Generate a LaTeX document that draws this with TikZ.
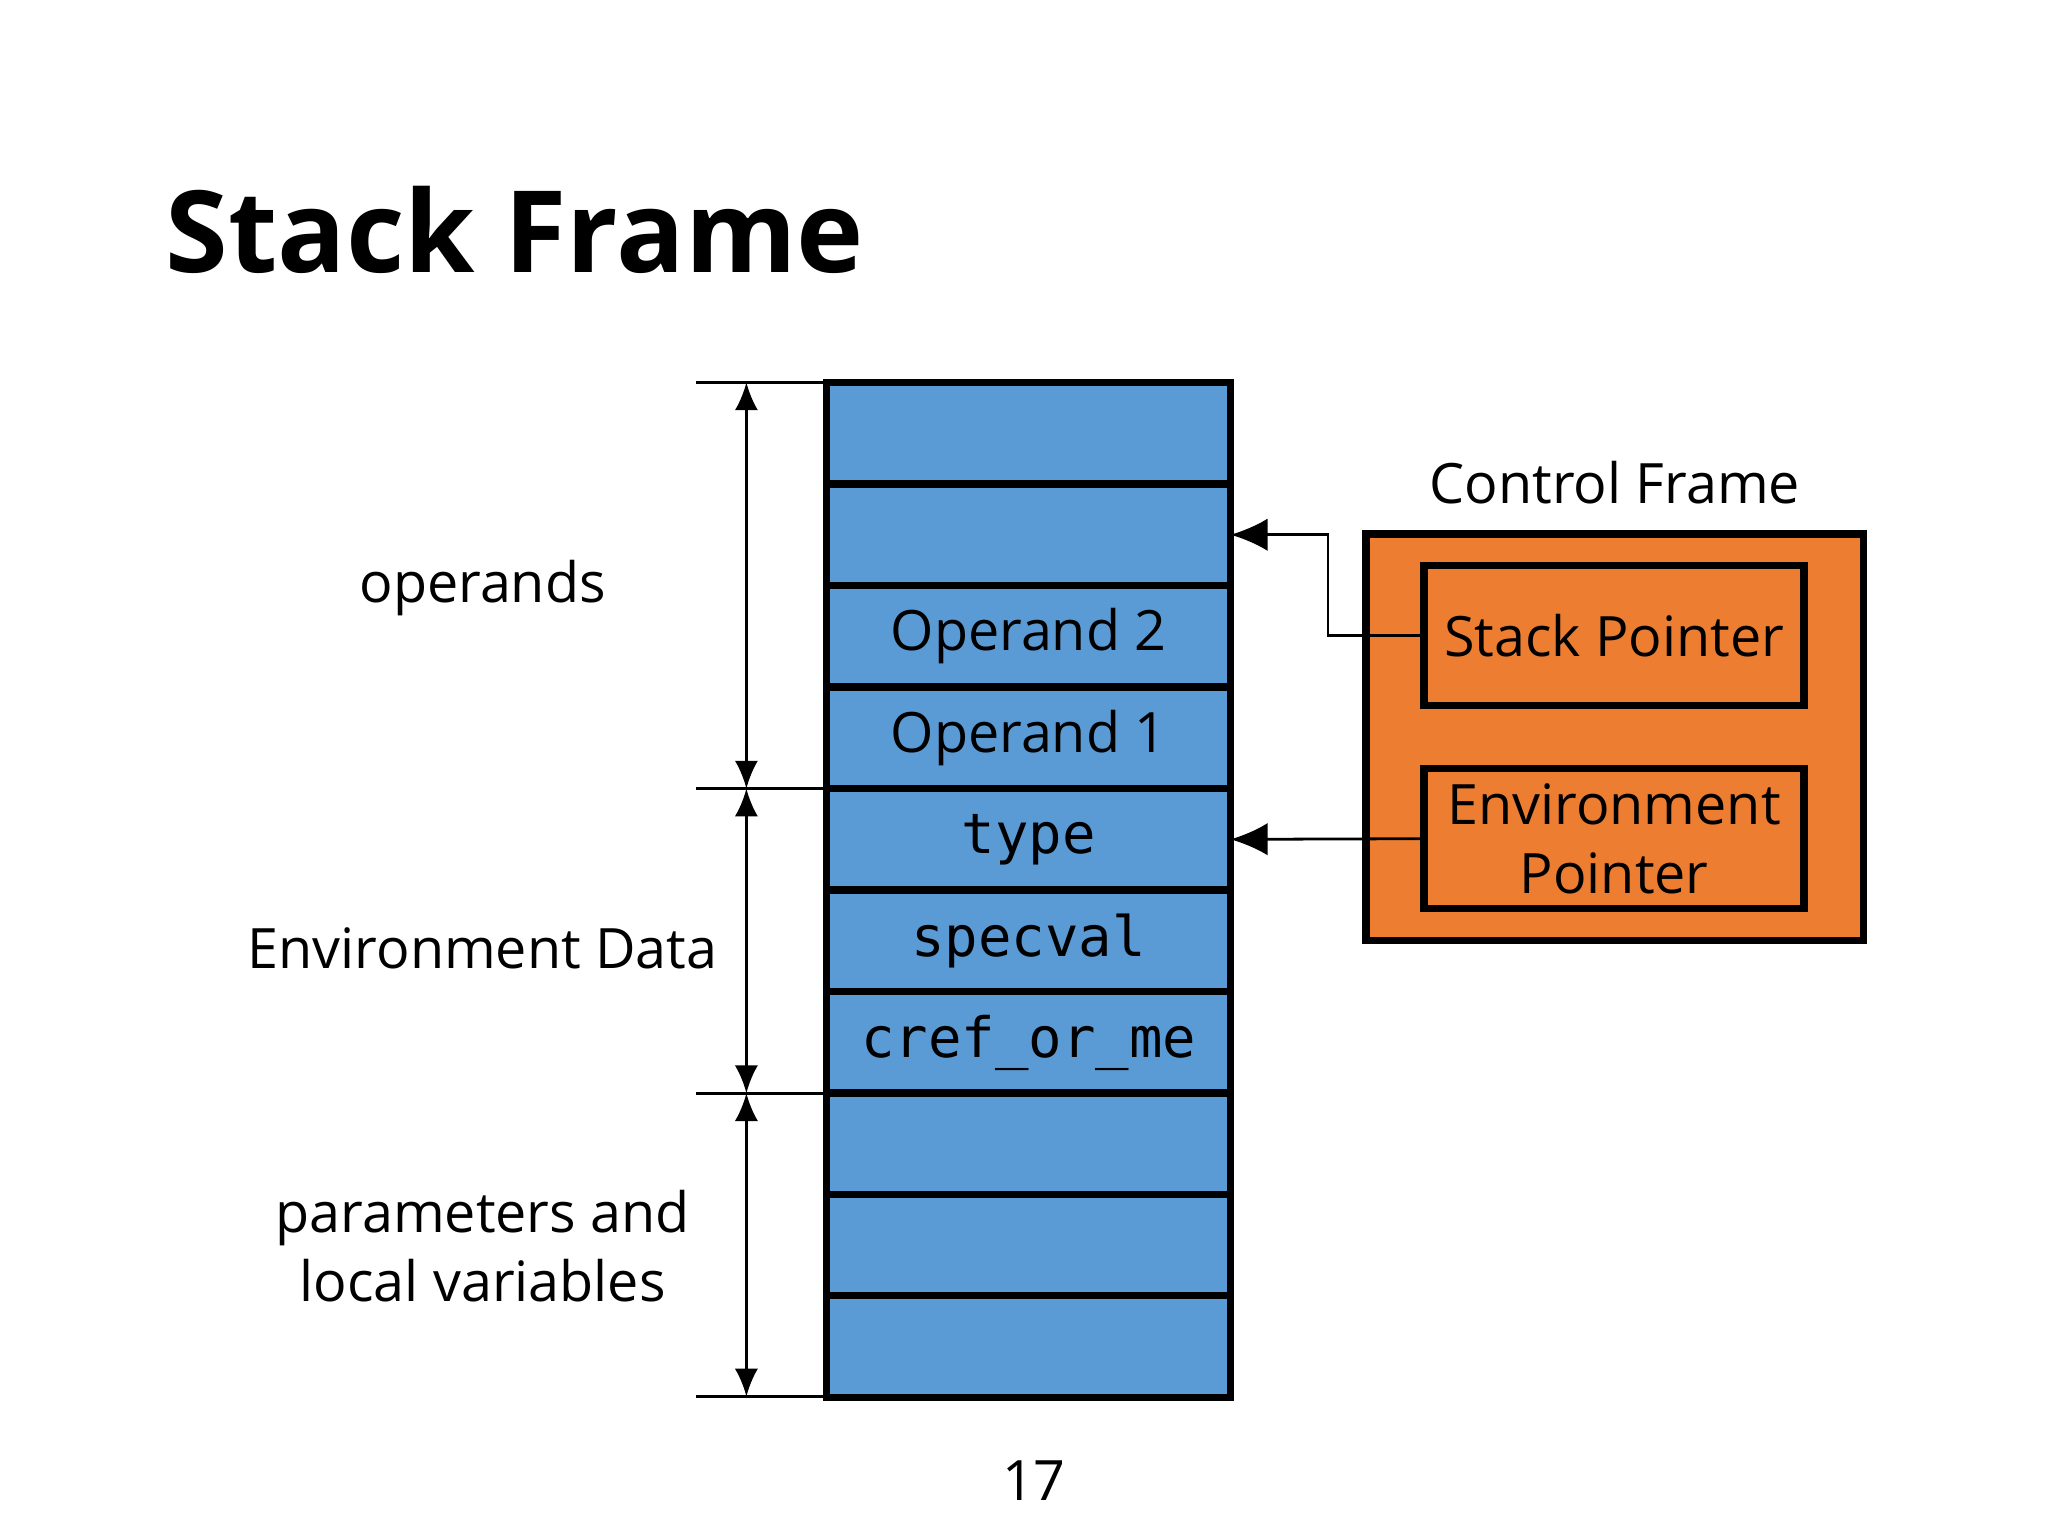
\documentclass[tikz,border=0pt]{standalone}
\usepackage{fontspec}
\setmainfont{Open Sans}
\newfontfamily\codefont{DejaVu Sans Mono}
\usetikzlibrary{arrows.meta}
\definecolor{slotblue}{HTML}{5B9BD5}
\definecolor{frameorange}{HTML}{ED7D31}
\tikzset{
  slot/.style={rectangle,draw=black,line width=1.6pt,fill=slotblue,minimum width=3.06cm,minimum height=0.77cm,inner sep=0pt,outer sep=0pt,font=\fontsize{12}{14}\selectfont},
  code/.style={slot,font=\codefont\fontsize{12}{14}\selectfont},
  ptr/.style={rectangle,draw=black,line width=1.6pt,fill=frameorange,minimum width=2.88cm,minimum height=1.06cm,inner sep=0pt,outer sep=0pt,align=center,font=\fontsize{12}{15}\selectfont},
  dim/.style={{Latex[length=6pt,width=5pt]}-{Latex[length=6pt,width=5pt]},line width=0.6pt},
  lbl/.style={align=center,font=\fontsize{12}{15}\selectfont}
}
\begin{document}
\begin{tikzpicture}[x=0.01cm,y=-0.01cm]
    \useasboundingbox (0,0) rectangle (1553,1165);
    % Titel
    \node[anchor=base west,font=\bfseries\fontsize{24.5}{28}\selectfont,inner sep=0pt] (title) at (125,207) {Stack Frame};
    % Stack slots
    \node[slot] (r1) at (780,328.5) {};
    \node[slot] (r2) at (780,405.5) {};
    \node[slot] (r3) at (780,482.5) {Operand 2};
    \node[slot] (r4) at (780,559.5) {Operand 1};
    \node[code] (r5) at (780,636.5) {type};
    \node[code] (r6) at (780,713.5) {specval};
    \node[code] (r7) at (780,790.5) {cref\_or\_me};
    \node[slot] (r8) at (780,867.5) {};
    \node[slot] (r9) at (780,944.5) {};
    \node[slot] (r10) at (780,1021) {};
    % Dimension marks
    \coordinate (t1) at (528,290);
    \coordinate (t2) at (528,598);
    \coordinate (t3) at (528,829);
    \coordinate (t4) at (528,1059);
    \foreach \t in {t1,t2,t3,t4}
        \draw[line width=0.6pt] (\t) -- (\t -| r1.west);
    \coordinate (d1) at (566,290);
    \coordinate (d2) at (566,598);
    \coordinate (d3) at (566,829);
    \coordinate (d4) at (566,1059);
    \draw[dim] (d1) -- (d2);
    \draw[dim] (d2) -- (d3);
    \draw[dim] (d3) -- (d4);
    \node[lbl] (ops) at (366,446) {operands};
    \node[lbl] (env) at (366,719) {Environment Data};
    \node[lbl] (par) at (366,945) {parameters and\\local variables};
    % Control frame
    \node[rectangle,draw=black,line width=1.6pt,fill=frameorange,minimum width=3.77cm,minimum height=3.08cm,outer sep=0pt] (cf) at (1224.5,559) {};
    \node[lbl,anchor=south] (cftitle) at ([yshift=3pt]cf.north) {Control Frame};
    \node[ptr] (sp) at (1224,482) {Stack Pointer};
    \node[ptr] (ep) at (1224,636) {Environment\\Pointer};
    \coordinate (bend) at (1007,482);
    \draw[-{Latex[length=8pt,width=7pt]},line width=0.6pt] (sp.west) -- (bend) |- (r2.east);
    \draw[-{Latex[length=8pt,width=7pt]},line width=0.6pt] (ep.west) -- (r5.east);
    % Seitenzahl
    \node[lbl] (page) at (784,1123) {17};
\end{tikzpicture}
\end{document}
